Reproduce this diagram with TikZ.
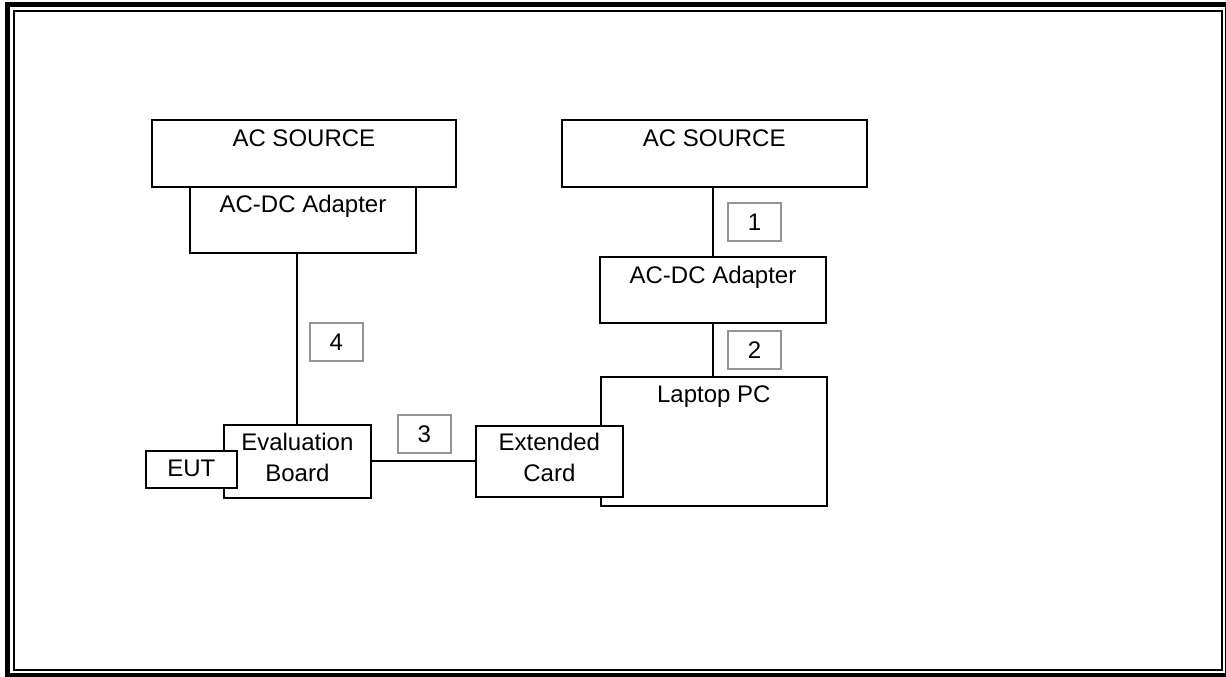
\documentclass[tikz,border=0pt]{standalone}
\usepackage{fontspec}
\setmainfont{Liberation Sans}
\begin{document}
\begin{tikzpicture}[x=1pt,y=-1pt,
  every node/.style={font=\fontsize{24}{28}\selectfont, inner sep=0pt, outer sep=0pt},
  blk/.style={draw=black, line width=2pt, fill=white, rectangle},
  numbox/.style={draw=black!42, line width=2pt, fill=white, rectangle, minimum width=53pt, minimum height=38pt},
  wire/.style={draw=black, line width=2pt},
  txt/.style={anchor=base}
]
\useasboundingbox (0,0) rectangle (1226,677);
\fill[white] (0,0) rectangle (1226,677);
% frame
\draw[line width=5pt] (7.5,5) rectangle (1227.5,675.5);
\draw[line width=2pt] (14,11) rectangle (1222,669.5);

% left column
\node[blk, minimum width=304.3pt, minimum height=66.7pt] (src1) at (303.85,153.35) {};
\node[blk, minimum width=226pt, minimum height=66.3pt] (adp1) at (303,219.85) {};
\node[txt] (src1t) at ([yshift=-26pt]src1.north) {AC SOURCE};
\node[txt] (adp1t) at ([yshift=-26pt]adp1.north) {AC-DC Adapter};

% right column
\node[blk, minimum width=305pt, minimum height=66.7pt] (src2) at (714.2,153.35) {};
\node[txt] (src2t) at ([yshift=-26pt]src2.north) {AC SOURCE};
\node[blk, minimum width=226pt, minimum height=65.7pt] (adp2) at (713,289.85) {};
\node[txt] (adp2t) at ([yshift=-26pt]adp2.north) {AC-DC Adapter};
\node[blk, minimum width=226.3pt, minimum height=128.7pt] (pc) at (713.85,441.35) {};
\node[txt] (pct) at ([yshift=-25.7pt]pc.north) {Laptop PC};
\node[blk, minimum width=146.7pt, minimum height=71.6pt] (ext) at (549.35,461.5) {};
\node[txt] (extt1) at ([yshift=-25pt]ext.north) {Extended};
\node[txt] (extt2) at ([yshift=-56pt]ext.north) {Card};

% evaluation board and EUT
\node[blk, minimum width=146.7pt, minimum height=72.7pt] (eval) at (297.35,461.35) {};
\node[txt] (evalt1) at ([yshift=-25.7pt]eval.north) {Evaluation};
\node[txt] (evalt2) at ([yshift=-56.7pt]eval.north) {Board};
\node[blk, minimum width=90.7pt, minimum height=37pt] (eut) at (191.35,469.5) {};
\node[txt] (eutt) at ([yshift=-6.5pt]eut.center) {EUT};

% connectors
\draw[wire] (adp2.north) -- (adp2.north |- src2.south);
\draw[wire] (adp2.south) -- (adp2.south |- pc.north);
\draw[wire] (eval.north) -- (eval.north |- adp1.south);
\draw[wire] (eval.east) -- (eval.east -| ext.west);

% numbered labels
\node[numbox] (n1) at (754.5,221.85) {1};
\node[numbox] (n2) at (754.5,350) {2};
\node[numbox] (n3) at (424.35,434) {3};
\node[numbox] (n4) at (336.35,342.35) {4};
\end{tikzpicture}
\end{document}
